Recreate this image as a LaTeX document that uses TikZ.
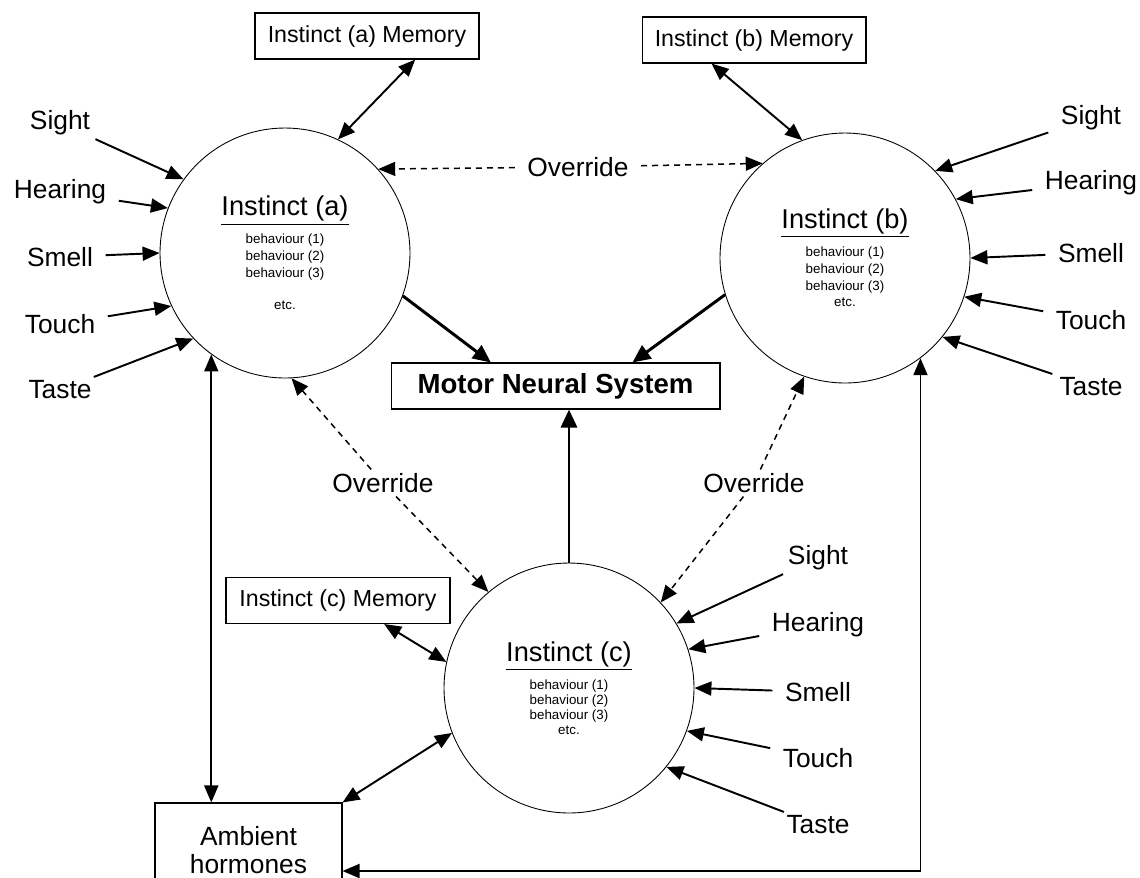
\documentclass[tikz,border=0pt]{standalone}
\usepackage{fontspec}
\setmainfont{Liberation Sans}
\usetikzlibrary{arrows.meta,shapes}

\begin{document}
\begin{tikzpicture}[x=0.02cm,y=-0.02cm]
	\tikzstyle{instinct}=[draw, circle, minimum size=5cm, inner sep=0pt, line width=0.5pt, align=center]
	\tikzstyle{membox}=[draw, rectangle, minimum width=4.48cm, minimum height=0.92cm, line width=0.6pt, font=\fontsize{13.2}{15}\selectfont]
	\tikzstyle{sense}=[inner xsep=7pt, inner ysep=2pt, font=\fontsize{15}{18}\selectfont]
	\tikzstyle{arrow}=[draw, line width=1.1pt, -{Triangle[length=0.34cm,width=0.28cm]}]
	\tikzstyle{biarrow}=[arrow, {Triangle[length=0.34cm,width=0.28cm]}-{Triangle[length=0.34cm,width=0.28cm]}]
	\tikzstyle{motorarrow}=[draw, line width=1.7pt, -{Triangle[length=0.36cm,width=0.32cm]}]
	\tikzstyle{dasharrow}=[arrow, line width=0.85pt, dash pattern=on 0.12cm off 0.1cm]
	\newcommand\XsenseA{60}
	\newcommand\XsenseB{1091}
	\newcommand\XsenseC{818}

	\useasboundingbox (0,0) rectangle (1140,877);

	% Instincts
	\node [instinct, font=\fontsize{7.6}{9.6}\selectfont] at (285,253) (a) {{\fontsize{15.5}{18}\selectfont\underline{Instinct (a)}}\\[4pt] behaviour (1)\\ behaviour (2)\\ behaviour (3)\\[9pt] etc.};
	\node [instinct, font=\fontsize{7.6}{9.6}\selectfont] at (845,258) (b) {{\fontsize{15.5}{18}\selectfont\underline{Instinct (b)}}\\[4pt] behaviour (1)\\ behaviour (2)\\ behaviour (3)\\ etc.};
	\node [instinct, font=\fontsize{7.6}{8.5}\selectfont] at (569,688) (c) {{\fontsize{15.5}{18}\selectfont\underline{Instinct (c)}}\\[4pt] behaviour (1)\\ behaviour (2)\\ behaviour (3)\\ etc.};

	% Memories
	\node [membox] at (367,36) (mema) {Instinct (a) Memory};
	\node [membox] at (754,40) (memb) {Instinct (b) Memory};
	\node [membox] at (338,600.5) (memc) {Instinct (c) Memory};

	% Motor system and hormones
	\node [draw, line width=0.6pt, minimum width=6.58cm, minimum height=0.92cm, font=\bfseries\fontsize{15.7}{18}\selectfont] at (555.5,386) (motor) {Motor Neural System};
	\node [draw, line width=0.6pt, minimum width=3.74cm, minimum height=1.88cm, align=center, font=\fontsize{15}{15.6}\selectfont] at (248.5,850) (amb) {Ambient\\hormones};

	% Senses (a)
	\node [sense] at (\XsenseA,123) (sighta) {Sight};
	\node [sense] at (\XsenseA,192) (hearinga) {Hearing};
	\node [sense] at (\XsenseA,257) (smella) {Smell};
	\node [sense] at (\XsenseA,324) (toucha) {Touch};
	\node [sense] at (\XsenseA,390) (tastea) {Taste};

	% Senses (b)
	\node [sense] at (\XsenseB,118) (sightb) {Sight};
	\node [sense] at (\XsenseB,183) (hearingb) {Hearing};
	\node [sense] at (\XsenseB,253) (smellb) {Smell};
	\node [sense] at (\XsenseB,320) (touchb) {Touch};
	\node [sense] at (\XsenseB,387) (tasteb) {Taste};

	% Senses (c)
	\node [sense] at (\XsenseC,558) (sightc) {Sight};
	\node [sense] at (\XsenseC,625) (hearingc) {Hearing};
	\node [sense] at (\XsenseC,692) (smellc) {Smell};
	\node [sense] at (\XsenseC,758) (touchc) {Touch};
	\node [sense] at (\XsenseC,825) (tastec) {Taste};

	% Override labels
	\node [sense] at (578,167) (ovab) {Override};
	\node [sense] at (383,483) (ova) {Override};
	\node [sense] at (754,483) (ovb) {Override};

	% Path Arrows
	\path [arrow] (sighta) -- (a.144);
	\path [arrow] (hearinga) -- (a.159);
	\path [arrow] (smella) -- (a.180);
	\path [arrow] (toucha) -- (a.205);
	\path [arrow] (tastea) -- (a.223);

	\path [arrow] (sightb) -- (b.44);
	\path [arrow] (hearingb) -- (b.28);
	\path [arrow] (smellb) -- (b.0);
	\path [arrow] (touchb) -- (b.-18);
	\path [arrow] (tasteb) -- (b.-39);

	\path [arrow] (sightc) -- (c.31);
	\path [arrow] (hearingc) -- (c.18);
	\path [arrow] (smellc) -- (c.0);
	\path [arrow] (touchc) -- (c.-20);
	\path [arrow] (tastec) -- (c.-39);

	\path [biarrow] (mema.-26) -- (a.65);
	\path [biarrow] (memb.209) -- (b.110);
	\path [biarrow] (memc.-27) -- (c.168);

	\path [motorarrow] (a.-20) -- (motor.160);
	\path [motorarrow] (b.197) -- (motor.17);
	\path [motorarrow] (c.north) -- (c.north |- motor.south);

	\path [dasharrow] (ovab) -- (a.42);
	\path [dasharrow] (ovab) -- (b.131);
	\path [dasharrow] (ova) -- (a.-87);
	\path [dasharrow] (ova) -- (c.130);
	\path [dasharrow] (ovb) -- (b.251);
	\path [dasharrow] (ovb) -- (c.43);

	\coordinate (loopc) at (922,871);
	\path [biarrow] (a.234) -- (a.234 |- amb.north);
	\path [biarrow] (amb.north east) -- (c.201);
	\path [biarrow] (b.-53) |- (amb.east |- loopc);
\end{tikzpicture}
\end{document}
